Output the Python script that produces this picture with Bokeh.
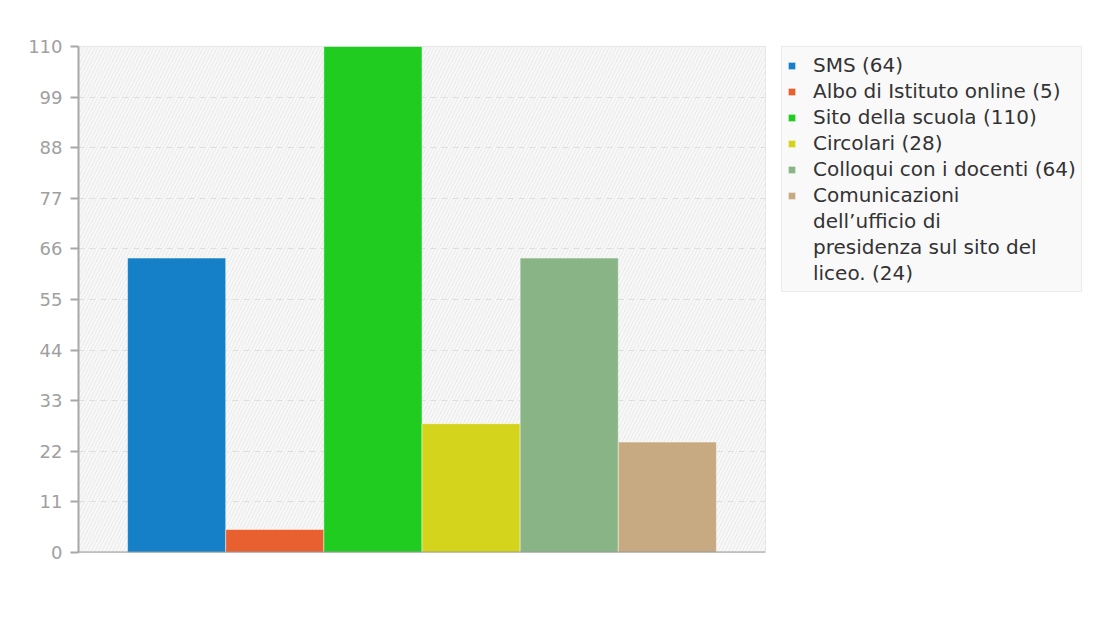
from bokeh.plotting import figure
from bokeh.models import (FactorRange, FixedTicker, BoxAnnotation, Legend, LegendItem,
                          Range1d, ColumnDataSource, Span)
from bokeh.embed import file_html
from bokeh.resources import INLINE

categories = ["SMS", "Albo di Istituto online", "Sito della scuola", "Circolari",
              "Colloqui con i docenti",
              "Comunicazioni dell’ufficio di presidenza sul sito del liceo."]
values = [64, 5, 110, 28, 64, 24]
colors = ["#1580c8", "#e8602f", "#21cc21", "#d4d41c", "#89b485", "#c8aa82"]
# legend text lines per series (the last label wraps over four lines)
legend_lines = [["SMS (64)"], ["Albo di Istituto online (5)"], ["Sito della scuola (110)"],
                ["Circolari (28)"], ["Colloqui con i docenti (64)"],
                ["Comunicazioni", "dell’ufficio di", "presidenza sul sito del", "liceo. (24)"]]
y_ticks = [0, 11, 22, 33, 44, 55, 66, 77, 88, 99, 110]

src = ColumnDataSource(dict(cat=categories, val=values, color=colors))

p = figure(frame_width=687, frame_height=506, output_backend="svg", toolbar_location=None,
           x_range=FactorRange(*categories, range_padding=1/6, range_padding_units="percent"),
           y_range=Range1d(0, 110),
           min_border_left=78, min_border_top=46, min_border_right=0, min_border_bottom=81)

p.background_fill_color = "#f8f8f8"
p.border_fill_color = "white"
p.outline_line_color = "#e2e2e2"

bg = BoxAnnotation(fill_color="#f8f8f8", fill_alpha=1.0, line_color=None,
                   hatch_pattern="/", hatch_color="#e9e9e9", hatch_scale=7, hatch_weight=1,
                   level="image")
p.add_layout(bg)

r = p.vbar(x="cat", top="val", width=1.0, bottom=0, source=src, fill_color="color",
           line_color="white", line_alpha=0.45, line_width=1)
# transparent renderer used only for continuation lines of a wrapped legend label
r_blank = p.vbar(x=[], top=[], width=1.0, fill_alpha=0, line_alpha=0)

p.xaxis.visible = False
p.xgrid.grid_line_color = None
p.add_layout(Span(location=0, dimension="width", line_color="#9a9a9a", line_width=2))

p.yaxis.ticker = FixedTicker(ticks=y_ticks)
p.yaxis.major_label_text_font = "DejaVu Sans"
p.yaxis.major_label_text_font_size = "18px"
p.yaxis.major_label_text_color = "#a0a0a0"
p.yaxis.axis_line_color = "#a8a8a8"
p.yaxis.axis_line_width = 2
p.yaxis.major_tick_line_color = "#a8a8a8"
p.yaxis.major_tick_line_width = 2
p.yaxis.major_tick_out = 8
p.yaxis.major_tick_in = 0
p.yaxis.minor_tick_line_color = None
p.yaxis.major_label_standoff = 8
p.ygrid.grid_line_color = "#dedede"
p.ygrid.grid_line_dash = "6 5"

items = []
for i, lines in enumerate(legend_lines):
    items.append(LegendItem(label=lines[0], renderers=[r], index=i))
    for extra in lines[1:]:
        items.append(LegendItem(label=extra, renderers=[r_blank]))

legend = Legend(items=items, location=(16, 260), orientation="vertical")
legend.label_text_font = "DejaVu Sans"
legend.label_text_font_size = "20px"
legend.label_text_color = "#333333"
legend.glyph_width = 9
legend.glyph_height = 9
legend.label_standoff = 17
legend.label_height = 26
legend.spacing = 0
legend.padding = 5
legend.margin = 0
legend.background_fill_color = "#f9f9f9"
legend.background_fill_alpha = 1.0
legend.border_line_color = "#dddddd"
p.add_layout(legend, "right")

open("out.html", "w").write(file_html(p, INLINE))
